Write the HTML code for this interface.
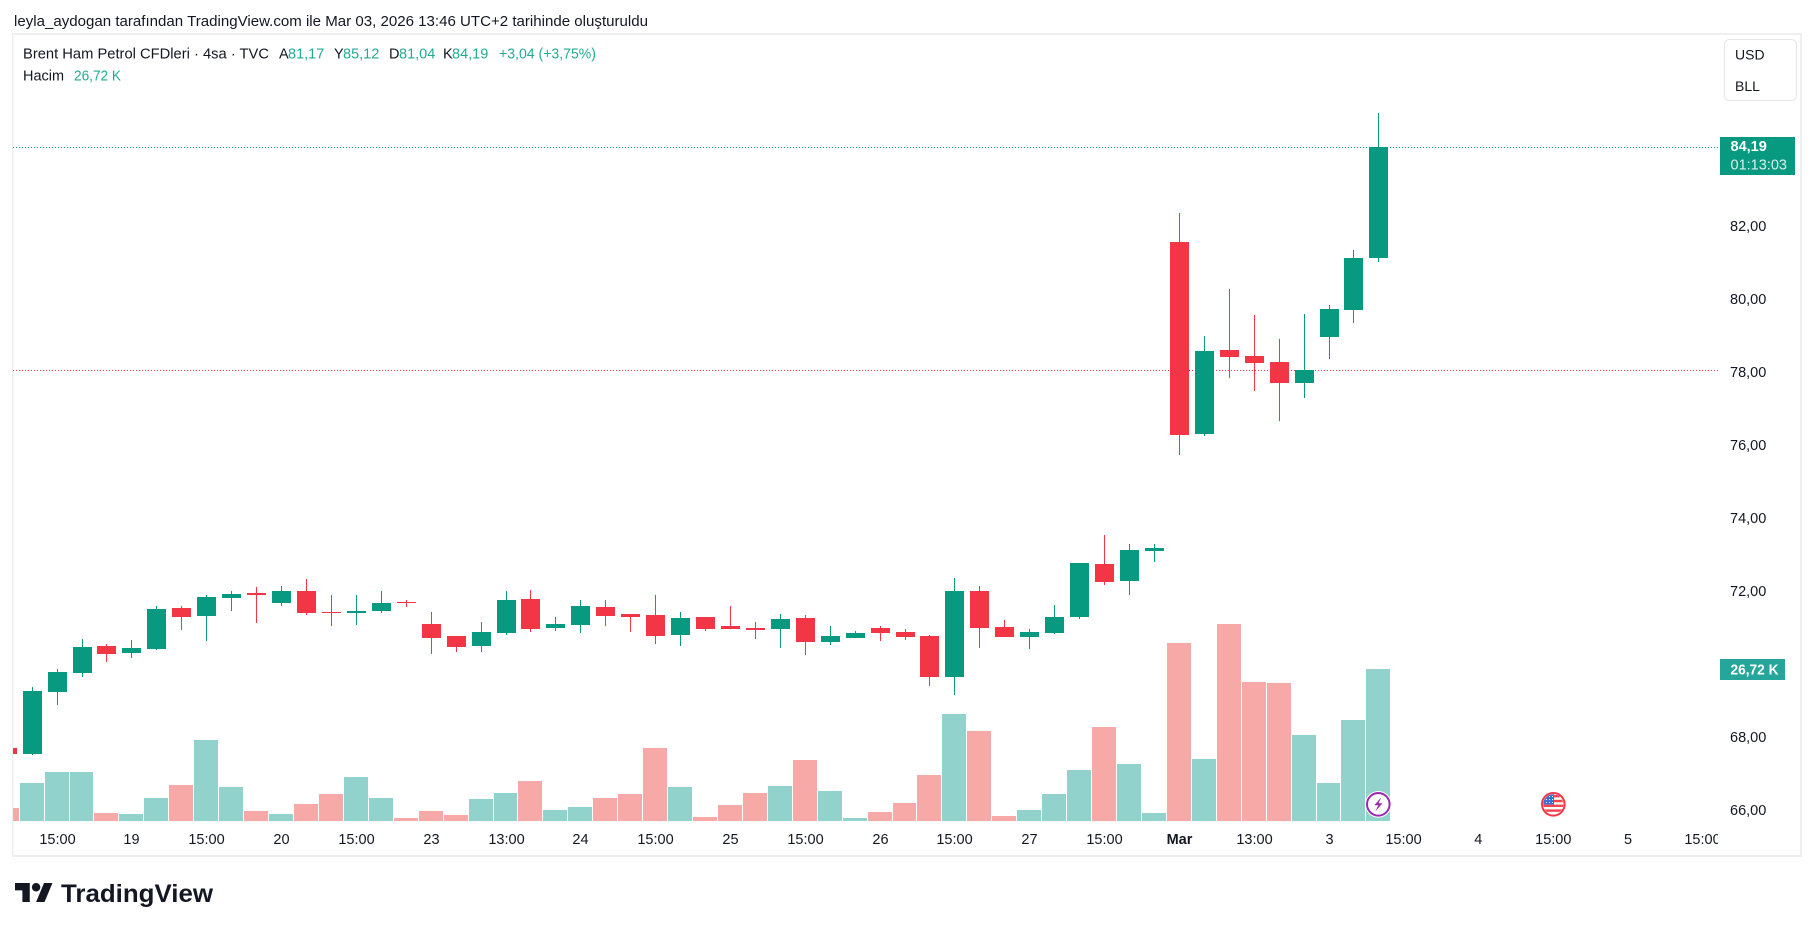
<!DOCTYPE html>
<html><head><meta charset="utf-8">
<style>
html,body{margin:0;padding:0;background:#fff;}
svg{display:block;}
text{font-family:"Liberation Sans",Arial,sans-serif;}
</style></head>
<body>
<svg width="1814" height="931" viewBox="0 0 1814 931" xmlns="http://www.w3.org/2000/svg">
<defs>
<clipPath id="plot"><rect x="13" y="35" width="1705" height="786"/></clipPath>
<clipPath id="flagc"><circle cx="1553.3" cy="804.3" r="10"/></clipPath>
</defs>
<rect width="1814" height="931" fill="#fff"/>

<!-- title -->
<text x="14" y="26" font-size="14.5" fill="#131722" textLength="634" lengthAdjust="spacingAndGlyphs">leyla_aydogan tarafından TradingView.com ile Mar 03, 2026 13:46 UTC+2 tarihinde oluşturuldu</text>

<!-- frame -->
<g fill="#efefef">
<rect x="12" y="33" width="1790" height="2"/>
<rect x="12" y="33" width="1.5" height="824"/>
<rect x="1800" y="33" width="2" height="824"/>
<rect x="12" y="855" width="1790" height="2"/>
</g>

<!-- legend -->
<g font-size="14.5">
<text x="23" y="58.5" fill="#131722" textLength="246" lengthAdjust="spacingAndGlyphs">Brent Ham Petrol CFDleri · 4sa · TVC</text>
<text x="279" y="58.5" fill="#131722">A</text><text x="288" y="58.5" fill="#22ab94">81,17</text>
<text x="334" y="58.5" fill="#131722">Y</text><text x="343" y="58.5" fill="#22ab94">85,12</text>
<text x="389" y="58.5" fill="#131722">D</text><text x="399" y="58.5" fill="#22ab94">81,04</text>
<text x="443" y="58.5" fill="#131722">K</text><text x="452" y="58.5" fill="#22ab94">84,19</text>
<text x="499" y="58.5" fill="#22ab94" textLength="97" lengthAdjust="spacingAndGlyphs">+3,04 (+3,75%)</text>
<text x="23" y="80.3" fill="#131722" textLength="41" lengthAdjust="spacingAndGlyphs">Hacim</text>
<text x="74" y="80.3" fill="#22ab94" textLength="47" lengthAdjust="spacingAndGlyphs">26,72 K</text>
</g>

<!-- currency box -->
<rect x="1724.5" y="39.5" width="72" height="61" rx="5" fill="#fff" stroke="#e6e6e6" stroke-width="1"/>
<text x="1735" y="59.3" font-size="14" fill="#131722">USD</text>
<text x="1735" y="91" font-size="14" fill="#131722">BLL</text>

<g clip-path="url(#plot)">
<!-- dotted lines -->
<line x1="13" y1="147.5" x2="1718" y2="147.5" stroke="#089981" stroke-width="1" stroke-dasharray="1 2"/>
<line x1="13" y1="370.5" x2="1718" y2="370.5" stroke="#F23645" stroke-width="1" stroke-dasharray="1 2"/>

<!-- volume green -->
<g fill="#92d2cc" shape-rendering="crispEdges">
<rect x="20" y="783" width="24" height="38"/>
<rect x="45" y="772" width="24" height="49"/>
<rect x="70" y="772" width="23" height="49"/>
<rect x="119" y="814" width="24" height="7"/>
<rect x="144" y="798" width="24" height="23"/>
<rect x="194" y="740" width="24" height="81"/>
<rect x="219" y="787" width="24" height="34"/>
<rect x="269" y="814" width="24" height="7"/>
<rect x="344" y="777" width="24" height="44"/>
<rect x="369" y="798" width="24" height="23"/>
<rect x="469" y="799" width="24" height="22"/>
<rect x="494" y="793" width="23" height="28"/>
<rect x="543" y="810" width="24" height="11"/>
<rect x="568" y="807" width="24" height="14"/>
<rect x="668" y="787" width="24" height="34"/>
<rect x="768" y="786" width="24" height="35"/>
<rect x="818" y="791" width="24" height="30"/>
<rect x="843" y="818" width="24" height="3"/>
<rect x="942" y="714" width="24" height="107"/>
<rect x="1017" y="810" width="24" height="11"/>
<rect x="1042" y="794" width="24" height="27"/>
<rect x="1067" y="770" width="24" height="51"/>
<rect x="1117" y="764" width="24" height="57"/>
<rect x="1142" y="813" width="24" height="8"/>
<rect x="1192" y="759" width="24" height="62"/>
<rect x="1292" y="735" width="24" height="86"/>
<rect x="1317" y="783" width="23" height="38"/>
<rect x="1341" y="720" width="24" height="101"/>
<rect x="1366" y="669" width="24" height="152"/>
</g>
<!-- volume red -->
<g fill="#f7a9a7" shape-rendering="crispEdges">
<rect x="-5" y="808" width="24" height="13"/>
<rect x="94" y="813" width="24" height="8"/>
<rect x="169" y="785" width="24" height="36"/>
<rect x="244" y="811" width="24" height="10"/>
<rect x="294" y="804" width="24" height="17"/>
<rect x="319" y="794" width="24" height="27"/>
<rect x="394" y="818" width="24" height="3"/>
<rect x="419" y="811" width="24" height="10"/>
<rect x="444" y="815" width="24" height="6"/>
<rect x="518" y="781" width="24" height="40"/>
<rect x="593" y="798" width="24" height="23"/>
<rect x="618" y="794" width="24" height="27"/>
<rect x="643" y="748" width="24" height="73"/>
<rect x="693" y="817" width="24" height="4"/>
<rect x="718" y="805" width="24" height="16"/>
<rect x="743" y="793" width="24" height="28"/>
<rect x="793" y="760" width="24" height="61"/>
<rect x="868" y="812" width="24" height="9"/>
<rect x="893" y="803" width="23" height="18"/>
<rect x="917" y="775" width="24" height="46"/>
<rect x="967" y="731" width="24" height="90"/>
<rect x="992" y="816" width="24" height="5"/>
<rect x="1092" y="727" width="24" height="94"/>
<rect x="1167" y="643" width="24" height="178"/>
<rect x="1217" y="624" width="24" height="197"/>
<rect x="1242" y="682" width="24" height="139"/>
<rect x="1267" y="683" width="24" height="138"/>
</g>

<!-- green candles -->
<g fill="#089981" shape-rendering="crispEdges">
<rect x="32" y="687" width="1" height="68"/><rect x="23" y="691" width="19" height="63"/>
<rect x="57" y="669" width="1" height="36"/><rect x="48" y="672" width="19" height="20"/>
<rect x="82" y="639" width="1" height="38"/><rect x="73" y="647" width="19" height="26"/>
<rect x="131" y="640" width="1" height="18"/><rect x="122" y="648" width="19" height="5"/>
<rect x="156" y="606" width="1" height="44"/><rect x="147" y="609" width="19" height="40"/>
<rect x="206" y="595" width="1" height="46"/><rect x="197" y="597" width="19" height="19"/>
<rect x="231" y="591" width="1" height="20"/><rect x="222" y="594" width="19" height="4"/>
<rect x="281" y="586" width="1" height="20"/><rect x="272" y="591" width="19" height="12"/>
<rect x="356" y="595" width="1" height="30"/><rect x="347" y="611" width="19" height="2"/>
<rect x="381" y="591" width="1" height="22"/><rect x="372" y="603" width="19" height="8"/>
<rect x="481" y="622" width="1" height="30"/><rect x="472" y="632" width="19" height="14"/>
<rect x="506" y="591" width="1" height="44"/><rect x="497" y="600" width="19" height="33"/>
<rect x="555" y="617" width="1" height="14"/><rect x="546" y="624" width="19" height="4"/>
<rect x="580" y="600" width="1" height="33"/><rect x="571" y="606" width="19" height="19"/>
<rect x="680" y="612" width="1" height="34"/><rect x="671" y="618" width="19" height="17"/>
<rect x="780" y="614" width="1" height="34"/><rect x="771" y="619" width="19" height="10"/>
<rect x="830" y="626" width="1" height="19"/><rect x="821" y="636" width="19" height="6"/>
<rect x="855" y="631" width="1" height="7"/><rect x="846" y="633" width="19" height="5"/>
<rect x="954" y="578" width="1" height="117"/><rect x="945" y="591" width="19" height="86"/>
<rect x="1029" y="629" width="1" height="20"/><rect x="1020" y="632" width="19" height="5"/>
<rect x="1054" y="605" width="1" height="29"/><rect x="1045" y="617" width="19" height="16"/>
<rect x="1079" y="563" width="1" height="56"/><rect x="1070" y="563" width="19" height="54"/>
<rect x="1129" y="544" width="1" height="51"/><rect x="1120" y="550" width="19" height="31"/>
<rect x="1154" y="544" width="1" height="18"/><rect x="1145" y="548" width="19" height="3"/>
<rect x="1204" y="336" width="1" height="100"/><rect x="1195" y="351" width="19" height="83"/>
<rect x="1304" y="314" width="1" height="84"/><rect x="1295" y="370" width="19" height="13"/>
<rect x="1329" y="305" width="1" height="54"/><rect x="1320" y="309" width="19" height="28"/>
<rect x="1353" y="250" width="1" height="73"/><rect x="1344" y="258" width="19" height="52"/>
<rect x="1378" y="113" width="1" height="149"/><rect x="1369" y="147" width="19" height="111"/>
</g>
<!-- red candles -->
<g fill="#F23645" shape-rendering="crispEdges">
<rect x="-2" y="748" width="19" height="6"/>
<rect x="106" y="644" width="1" height="18"/><rect x="97" y="646" width="19" height="8"/>
<rect x="181" y="606" width="1" height="24"/><rect x="172" y="608" width="19" height="9"/>
<rect x="256" y="587" width="1" height="36"/><rect x="247" y="593" width="19" height="2"/>
<rect x="306" y="579" width="1" height="36"/><rect x="297" y="591" width="19" height="22"/>
<rect x="331" y="595" width="1" height="31"/><rect x="322" y="612" width="19" height="1"/>
<rect x="406" y="600" width="1" height="7"/><rect x="397" y="602" width="19" height="1"/>
<rect x="431" y="612" width="1" height="42"/><rect x="422" y="624" width="19" height="14"/>
<rect x="456" y="636" width="1" height="16"/><rect x="447" y="636" width="19" height="11"/>
<rect x="530" y="590" width="1" height="42"/><rect x="521" y="599" width="19" height="30"/>
<rect x="605" y="600" width="1" height="26"/><rect x="596" y="607" width="19" height="9"/>
<rect x="630" y="614" width="1" height="18"/><rect x="621" y="614" width="19" height="3"/>
<rect x="655" y="595" width="1" height="49"/><rect x="646" y="615" width="19" height="21"/>
<rect x="705" y="617" width="1" height="14"/><rect x="696" y="617" width="19" height="12"/>
<rect x="730" y="606" width="1" height="23"/><rect x="721" y="626" width="19" height="3"/>
<rect x="755" y="622" width="1" height="17"/><rect x="746" y="628" width="19" height="2"/>
<rect x="805" y="615" width="1" height="40"/><rect x="796" y="618" width="19" height="24"/>
<rect x="880" y="626" width="1" height="15"/><rect x="871" y="628" width="19" height="5"/>
<rect x="905" y="629" width="1" height="11"/><rect x="896" y="632" width="19" height="5"/>
<rect x="929" y="635" width="1" height="51"/><rect x="920" y="636" width="19" height="41"/>
<rect x="979" y="586" width="1" height="62"/><rect x="970" y="591" width="19" height="37"/>
<rect x="1004" y="620" width="1" height="17"/><rect x="995" y="627" width="19" height="10"/>
<rect x="1104" y="535" width="1" height="50"/><rect x="1095" y="564" width="19" height="18"/>
<rect x="1179" y="213" width="1" height="242"/><rect x="1170" y="242" width="19" height="193"/>
<rect x="1229" y="289" width="1" height="89"/><rect x="1220" y="350" width="19" height="7"/>
<rect x="1254" y="315" width="1" height="76"/><rect x="1245" y="356" width="19" height="7"/>
<rect x="1279" y="339" width="1" height="82"/><rect x="1270" y="362" width="19" height="21"/>
</g>
</g>

<!-- lightning icon -->
<circle cx="1378.3" cy="804.3" r="13.3" fill="#fff"/>
<circle cx="1378.3" cy="804.3" r="11.3" fill="#fff" stroke="#9c27b0" stroke-width="2"/>
<path d="M1381.3,797.3 L1374.3,805.3 L1378.3,805.3 L1375.3,811.5 L1382.5,803.3 L1378.5,803.3 Z" fill="#9c27b0"/>

<!-- US flag icon -->
<circle cx="1553.3" cy="804.3" r="13.3" fill="#fff"/>
<g clip-path="url(#flagc)">
<rect x="1543" y="794" width="21" height="21" fill="#fff"/>
<g fill="#f0444f">
<rect x="1543" y="795" width="21" height="2.4"/>
<rect x="1543" y="799.8" width="21" height="2.4"/>
<rect x="1543" y="804.6" width="21" height="2.4"/>
<rect x="1543" y="809.4" width="21" height="2.4"/>
</g>
<rect x="1543" y="794" width="11" height="10.5" fill="#3b6fd6"/>
<g fill="#fff">
<rect x="1546" y="796" width="1" height="1"/><rect x="1549" y="796" width="1" height="1"/><rect x="1552" y="796" width="1" height="1"/>
<rect x="1546" y="799" width="1" height="1"/><rect x="1549" y="799" width="1" height="1"/><rect x="1552" y="799" width="1" height="1"/>
<rect x="1546" y="802" width="1" height="1"/><rect x="1549" y="802" width="1" height="1"/><rect x="1552" y="802" width="1" height="1"/>
</g>
</g>
<circle cx="1553.3" cy="804.3" r="11.3" fill="none" stroke="#F23645" stroke-width="2"/>

<!-- price axis labels -->
<g font-size="14.5" fill="#131722">
<text x="1730" y="230.8">82,00</text>
<text x="1730" y="303.8">80,00</text>
<text x="1730" y="376.8">78,00</text>
<text x="1730" y="449.8">76,00</text>
<text x="1730" y="522.8">74,00</text>
<text x="1730" y="595.8">72,00</text>
<text x="1730" y="668.8">70,00</text>
<text x="1730" y="741.8">68,00</text>
<text x="1730" y="814.8">66,00</text>
</g>

<!-- last price label -->
<rect x="1720" y="137" width="75" height="38" fill="#089981"/>
<text x="1730.5" y="151" font-size="14.5" font-weight="bold" fill="#fff">84,19</text>
<text x="1730.5" y="169.5" font-size="14.5" fill="#ffffff" fill-opacity="0.85">01:13:03</text>

<!-- volume label -->
<rect x="1720" y="659" width="65" height="21" fill="#26a69a"/>
<text x="1730.5" y="674.5" font-size="14.5" font-weight="bold" fill="#fff" textLength="48" lengthAdjust="spacingAndGlyphs">26,72 K</text>

<!-- time axis -->
<svg x="0" y="820" width="1718" height="35" overflow="hidden">
<g font-size="14.5" fill="#131722" text-anchor="middle">
<text x="57.5" y="24">15:00</text>
<text x="131.5" y="24">19</text>
<text x="206.5" y="24">15:00</text>
<text x="281.5" y="24">20</text>
<text x="356.5" y="24">15:00</text>
<text x="431.5" y="24">23</text>
<text x="506.5" y="24">13:00</text>
<text x="580.5" y="24">24</text>
<text x="655.5" y="24">15:00</text>
<text x="730.5" y="24">25</text>
<text x="805.5" y="24">15:00</text>
<text x="880.5" y="24">26</text>
<text x="954.5" y="24">15:00</text>
<text x="1029.5" y="24">27</text>
<text x="1104.5" y="24">15:00</text>
<text x="1179.5" y="24" font-weight="bold">Mar</text>
<text x="1254.5" y="24">13:00</text>
<text x="1329.5" y="24">3</text>
<text x="1403.5" y="24">15:00</text>
<text x="1478.3" y="24">4</text>
<text x="1553.3" y="24">15:00</text>
<text x="1628" y="24">5</text>
<text x="1702.5" y="24">15:00</text>
</g>
</svg>

<!-- logo -->
<g transform="translate(15,878.8) scale(1.055)" fill="#131722">
<path d="M14 22H7V11H0V4h14v18zM28 22h-8l7.5-18h8L28 22z"/>
<circle cx="20" cy="8" r="4"/>
</g>
<text x="61" y="902" font-size="25" font-weight="bold" fill="#131722" textLength="152" lengthAdjust="spacingAndGlyphs">TradingView</text>
</svg>
</body></html>
